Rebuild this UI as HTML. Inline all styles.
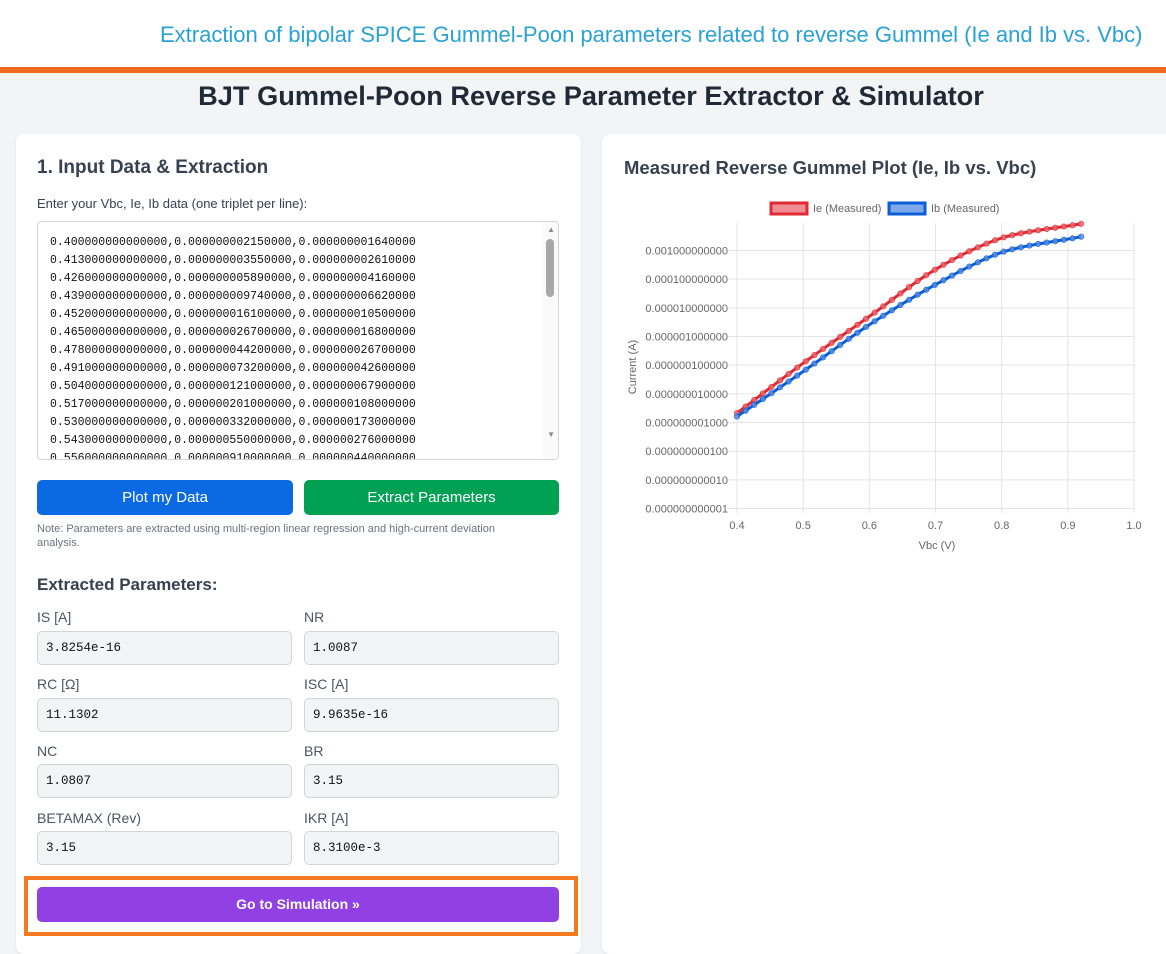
<!DOCTYPE html>
<html><head><meta charset="utf-8">
<style>
*{box-sizing:border-box;margin:0;padding:0}
body{width:1166px;height:929px;overflow:hidden;background:#f3f4f6;font-family:"Liberation Sans",sans-serif;position:relative;color:#1f2937}
.hdr{position:absolute;left:0;top:0;width:1166px;height:67px;background:#fff}
.hdr span{position:absolute;left:160px;top:22px;font-size:22.1px;letter-spacing:-0.05px;color:#2ba2d4;white-space:nowrap}
.bar{position:absolute;left:0;top:67px;width:1166px;height:6px;background:#f26a1f}
h1{position:absolute;left:0;width:1182px;top:80px;text-align:center;font-size:27.2px;font-weight:bold;color:#1f2937}
.card{position:absolute;background:#fff;border-radius:8px;box-shadow:0 1px 3px rgba(0,0,0,.08)}
.abs{position:absolute}
.ta{position:absolute;left:37px;top:221px;width:522px;height:239px;border:1px solid #d1d5db;border-radius:4px;overflow:hidden;background:#fff}
.ta pre{position:absolute;left:12px;top:12px;font-family:"Liberation Mono",monospace;font-size:11.5px;line-height:18px;color:#111}
.btn{position:absolute;height:35px;border-radius:5px;color:#fff;font-size:15px;text-align:center;line-height:35px}
.lbl{position:absolute;font-size:14px;color:#4b5563}
.box{position:absolute;height:34px;background:#f3f4f6;border:1px solid #d1d5db;border-radius:5px;font-family:"Liberation Mono",monospace;font-size:12.5px;line-height:32px;padding-left:8px;color:#111;width:255px}
</style></head><body>
<div class="hdr"><span>Extraction of bipolar SPICE Gummel-Poon parameters related to reverse Gummel (Ie and Ib vs. Vbc)</span></div>
<div class="bar"></div>
<h1>BJT Gummel-Poon Reverse Parameter Extractor &amp; Simulator</h1>

<div class="card" style="left:16px;top:134px;width:565px;height:820px"></div>
<div class="abs" style="left:37px;top:157px;font-size:19px;font-weight:bold;color:#374151">1. Input Data &amp; Extraction</div>
<div class="abs" style="left:37px;top:196px;font-size:13px;color:#374151">Enter your Vbc, Ie, Ib data (one triplet per line):</div>
<div class="ta"><pre>0.400000000000000,0.000000002150000,0.000000001640000
0.413000000000000,0.000000003550000,0.000000002610000
0.426000000000000,0.000000005890000,0.000000004160000
0.439000000000000,0.000000009740000,0.000000006620000
0.452000000000000,0.000000016100000,0.000000010500000
0.465000000000000,0.000000026700000,0.000000016800000
0.478000000000000,0.000000044200000,0.000000026700000
0.491000000000000,0.000000073200000,0.000000042600000
0.504000000000000,0.000000121000000,0.000000067900000
0.517000000000000,0.000000201000000,0.000000108000000
0.530000000000000,0.000000332000000,0.000000173000000
0.543000000000000,0.000000550000000,0.000000276000000
0.556000000000000,0.000000910000000,0.000000440000000</pre>
<div class="abs" style="right:0;top:0;width:15px;height:239px;background:#fafafa"></div>
<div class="abs" style="right:4px;top:17px;width:8px;height:58px;background:#a8a8a8;border-radius:4px"></div>
<div class="abs" style="right:3px;top:3px;font-size:8px;color:#888">▲</div>
<div class="abs" style="right:3px;top:208px;font-size:8px;color:#888">▼</div>
</div>
<div class="btn" style="left:37px;top:480px;width:256px;background:#0b6ae3">Plot my Data</div>
<div class="btn" style="left:304px;top:480px;width:255px;background:#00a152">Extract Parameters</div>
<div class="abs" style="left:37px;top:522px;width:490px;font-size:11px;line-height:14px;color:#6b7280">Note: Parameters are extracted using multi-region linear regression and high-current deviation analysis.</div>
<div class="abs" style="left:37px;top:575px;font-size:17px;font-weight:bold;color:#374151">Extracted Parameters:</div>

<div class="lbl" style="left:37px;top:609px">IS [A]</div><div class="box" style="left:37px;top:631px">3.8254e-16</div>
<div class="lbl" style="left:304px;top:609px">NR</div><div class="box" style="left:304px;top:631px">1.0087</div>
<div class="lbl" style="left:37px;top:676px">RC [Ω]</div><div class="box" style="left:37px;top:698px">11.1302</div>
<div class="lbl" style="left:304px;top:676px">ISC [A]</div><div class="box" style="left:304px;top:698px">9.9635e-16</div>
<div class="lbl" style="left:37px;top:743px">NC</div><div class="box" style="left:37px;top:764px">1.0807</div>
<div class="lbl" style="left:304px;top:743px">BR</div><div class="box" style="left:304px;top:764px">3.15</div>
<div class="lbl" style="left:37px;top:810px">BETAMAX (Rev)</div><div class="box" style="left:37px;top:831px">3.15</div>
<div class="lbl" style="left:304px;top:810px">IKR [A]</div><div class="box" style="left:304px;top:831px">8.3100e-3</div>

<div class="abs" style="left:24px;top:876px;width:554px;height:60px;border:4px solid #f47a20"></div>
<div class="btn" style="left:37px;top:887px;width:522px;background:#9140e3;font-weight:bold;font-size:14px">Go to Simulation »</div>

<div class="card" style="left:602px;top:134px;width:580px;height:820px"></div>
<div class="abs" style="left:624px;top:157px;font-size:18.5px;font-weight:bold;color:#374151">Measured Reverse Gummel Plot (Ie, Ib vs. Vbc)</div>
<svg id="ch" class="abs" style="left:0;top:0" width="1166" height="929"></svg>
<script>
var s='',X=function(v){return 737+(v-0.4)*661.7},Y=function(l){return 250.5+(-3-l)*28.67};
s+='<g stroke="#e5e5e5" stroke-width="1">';
for(var i=0;i<=6;i++){var x=X(0.4+i*0.1);s+='<line x1="'+x+'" y1="223" x2="'+x+'" y2="513"/>';}
for(var d=-3;d>=-12;d--){var y=Y(d);s+='<line x1="728" y1="'+y+'" x2="1135" y2="'+y+'"/>';}
s+='</g><g font-family="Liberation Sans" font-size="11" fill="#666">';
var lab=['0.001000000000','0.000100000000','0.000010000000','0.000001000000','0.000000100000','0.000000010000','0.000000001000','0.000000000100','0.000000000010','0.000000000001'];
for(var k=0;k<10;k++)s+='<text x="728" y="'+(Y(-3-k)+4)+'" text-anchor="end">'+lab[k]+'</text>';
var xl=['0.4','0.5','0.6','0.7','0.8','0.9','1.0'];
for(var i=0;i<7;i++)s+='<text x="'+X(0.4+i*0.1)+'" y="529" text-anchor="middle">'+xl[i]+'</text>';
s+='<text x="937" y="549" text-anchor="middle">Vbc (V)</text>';
s+='<text transform="translate(636,367) rotate(-90)" text-anchor="middle">Current (A)</text>';
s+='<rect x="771" y="203" width="36" height="11" fill="#ef8e95" stroke="#e02a34" stroke-width="3"/><text x="813" y="212">Ie (Measured)</text>';
s+='<rect x="889" y="203" width="36" height="11" fill="#7fa8e8" stroke="#0b5ed7" stroke-width="3"/><text x="931" y="212">Ib (Measured)</text></g>';
var ax=[0.4,0.5,0.6,0.7,0.8,0.92];
var ie=[-8.67,-6.93,-5.30,-3.66,-2.56,-2.07], ib=[-8.79,-7.22,-5.59,-4.19,-3.06,-2.52];
function interp(a,v){for(var j=0;j<ax.length-1;j++)if(v<=ax[j+1]+1e-9){var p0=a[Math.max(j-1,0)],p1=a[j],p2=a[j+1],p3=a[Math.min(j+2,a.length-1)];var h=ax[j+1]-ax[j],t=(v-ax[j])/h;
var m1=(p2-p0)/2,m2=(p3-p1)/2;if(j==0)m1=p2-p1;if(j==ax.length-2)m2=p2-p1;
var t2=t*t,t3=t2*t;return (2*t3-3*t2+1)*p1+(t3-2*t2+t)*m1+(-2*t3+3*t2)*p2+(t3-t2)*m2;}return a[a.length-1];}
function ser(a,c,f){var pts=[];for(var n=0;n<=40;n++){var v=0.4+n*0.013;pts.push([X(v),Y(interp(a,v))]);}
var r='<polyline fill="none" stroke="'+c+'" stroke-width="3" points="'+pts.map(function(p){return p.join(',')}).join(' ')+'"/>';
pts.forEach(function(p){r+='<circle cx="'+p[0]+'" cy="'+p[1]+'" r="2.6" fill="'+f+'" stroke="'+c+'" stroke-width="1" opacity="0.8"/>';});return r;}
s+=ser(ie,'#e02a34','#ef6b73')+ser(ib,'#0b5ed7','#5b8fe0');
document.getElementById('ch').innerHTML=s;
</script>
</body></html>
